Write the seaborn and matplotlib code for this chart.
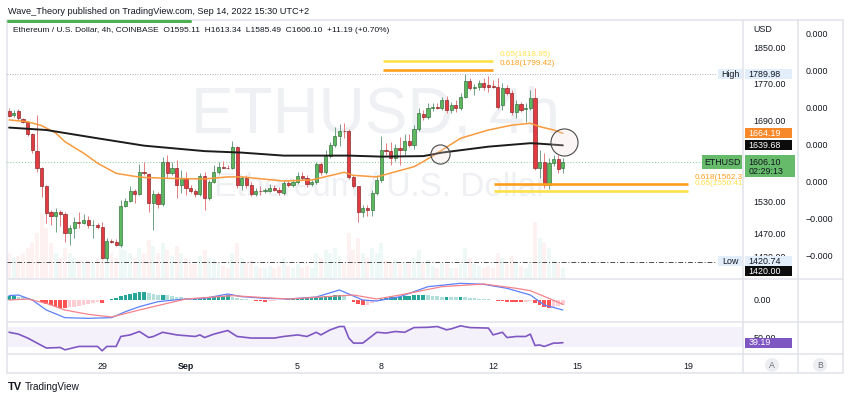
import numpy as np
import pandas as pd
import matplotlib
matplotlib.use("Agg")
import matplotlib.pyplot as plt
import seaborn as sns
from matplotlib.patches import Rectangle, Circle
from matplotlib.lines import Line2D
from matplotlib.transforms import IdentityTransform
from matplotlib.ticker import NullLocator

# ── data (ETHUSD 4h, Coinbase) ───────────────────────────────────────────────
opens = [1710, 1702, 1710, 1694, 1688, 1663, 1628, 1594, 1559, 1510,
         1503, 1510, 1506, 1471, 1480, 1491, 1490, 1495, 1486, 1487,
         1482, 1427, 1457, 1455, 1450, 1521, 1531, 1550, 1544, 1586,
         1583, 1527, 1544, 1525, 1606, 1584, 1594, 1561, 1575, 1555,
         1550, 1544, 1579, 1536, 1567, 1586, 1596, 1595, 1594, 1636,
         1561, 1575, 1561, 1544, 1550, 1549, 1550, 1555, 1552, 1546,
         1565, 1561, 1567, 1579, 1575, 1563, 1567, 1602, 1586, 1618,
         1640, 1658, 1669, 1668, 1577, 1559, 1510, 1518, 1514, 1546,
         1571, 1630, 1628, 1614, 1634, 1630, 1648, 1641, 1673, 1704,
         1698, 1717, 1719, 1718, 1734, 1713, 1723, 1717, 1740, 1775,
         1760, 1762, 1771, 1766, 1764, 1763, 1723, 1760, 1749, 1708,
         1725, 1714, 1717, 1738, 1594, 1606, 1561, 1604, 1612, 1595.11]
highs = [1717, 1713, 1715, 1696, 1690, 1665, 1702, 1596, 1561, 1514,
         1518, 1514, 1510, 1486, 1501, 1510, 1506, 1503, 1495, 1490,
         1491, 1462, 1461, 1461, 1533, 1536, 1559, 1554, 1602, 1606,
         1585, 1552, 1548, 1616, 1620, 1606, 1610, 1590, 1586, 1561,
         1553, 1584, 1586, 1571, 1600, 1606, 1608, 1600, 1648, 1638,
         1578, 1580, 1567, 1555, 1559, 1555, 1563, 1561, 1557, 1571,
         1571, 1573, 1586, 1586, 1580, 1571, 1606, 1606, 1630, 1646,
         1677, 1683, 1685, 1673, 1580, 1560, 1523, 1523, 1552, 1580,
         1658, 1644, 1646, 1642, 1656, 1662, 1662, 1681, 1717, 1713,
         1727, 1727, 1727, 1740, 1742, 1730, 1734, 1749, 1789.98, 1782,
         1769, 1777, 1782, 1786, 1777, 1782, 1771, 1766, 1755, 1734,
         1730, 1727, 1755, 1760, 1630, 1624, 1614, 1620, 1620, 1613.34]
lows = [1698, 1698, 1692, 1685, 1658, 1624, 1586, 1538, 1490, 1486,
        1473, 1484, 1455, 1450, 1462, 1480, 1488, 1480, 1462, 1479,
        1425, 1420.74, 1453, 1448, 1446, 1520, 1529, 1527, 1542, 1580,
        1510, 1477, 1518, 1521, 1575, 1580, 1536, 1546, 1542, 1546,
        1538, 1540, 1514, 1532, 1565, 1582, 1594, 1592, 1592, 1555,
        1551, 1555, 1540, 1540, 1542, 1546, 1548, 1550, 1542, 1542,
        1557, 1557, 1563, 1571, 1557, 1559, 1563, 1580, 1582, 1614,
        1636, 1638, 1654, 1573, 1555, 1491, 1501, 1503, 1503, 1542,
        1567, 1620, 1600, 1608, 1600, 1620, 1636, 1632, 1669, 1692,
        1694, 1710, 1715, 1713, 1706, 1706, 1708, 1713, 1738, 1755,
        1745, 1755, 1755, 1751, 1760, 1715, 1713, 1745, 1702, 1696,
        1708, 1688, 1713, 1590, 1575, 1555, 1553, 1598, 1585, 1585.49]
closes = [1700, 1706, 1696, 1688, 1663, 1630, 1594, 1559, 1508, 1503,
          1510, 1506, 1471, 1480, 1491, 1490, 1495, 1486, 1487, 1482,
          1427, 1457, 1455, 1450, 1521, 1531, 1550, 1544, 1586, 1584,
          1527, 1544, 1525, 1606, 1584, 1594, 1561, 1575, 1555, 1550,
          1544, 1579, 1536, 1567, 1586, 1596, 1595, 1594, 1636, 1561,
          1575, 1561, 1544, 1550, 1549, 1551, 1555, 1552, 1548, 1565,
          1561, 1567, 1579, 1575, 1563, 1567, 1602, 1586, 1618, 1640,
          1658, 1669, 1668, 1577, 1559, 1510, 1518, 1514, 1546, 1571,
          1630, 1628, 1614, 1634, 1630, 1648, 1641, 1673, 1706, 1698,
          1717, 1719, 1718, 1734, 1713, 1723, 1717, 1740, 1775, 1760,
          1762, 1771, 1762, 1762, 1763, 1719, 1760, 1749, 1708, 1725,
          1713, 1717, 1738, 1594, 1606, 1561, 1604, 1612, 1592, 1606.10]
volume = [25, 20, 22, 25, 30, 35, 45, 65, 50, 35,
          25, 20, 30, 25, 20, 18, 15, 18, 15, 20,
          40, 35, 25, 20, 38, 28, 25, 20, 30, 25,
          38, 32, 25, 35, 28, 22, 32, 25, 20, 15,
          14, 22, 28, 20, 18, 15, 12, 10, 25, 35,
          20, 15, 18, 12, 10, 10, 12, 10, 12, 20,
          12, 10, 14, 10, 12, 10, 25, 20, 28, 25,
          30, 22, 15, 45, 28, 40, 25, 20, 30, 25,
          35, 18, 15, 18, 14, 15, 14, 20, 28, 15,
          18, 12, 10, 15, 14, 10, 10, 14, 30, 20,
          14, 12, 10, 12, 10, 25, 20, 14, 22, 15,
          12, 10, 14, 56, 40, 35, 30, 18, 15, 10]

first_candle = "2022-08-25 16:00"

# moving averages (sampled at candle index)
ma50_idx = [0, 4, 7, 10, 12, 16, 19, 23, 27, 29, 35, 42, 47, 50, 59, 65, 72, 74,
            79, 83, 87, 89, 93, 97, 103, 108, 112, 114, 117, 119]
ma50 = [1692, 1688, 1680, 1665, 1647, 1624, 1604, 1584, 1578, 1576, 1574, 1573,
        1577, 1577, 1569, 1571, 1586, 1580, 1577, 1587, 1597, 1607, 1630, 1654,
        1671, 1681, 1685, 1678, 1671, 1664.19]
ma200_idx = [0, 8, 19, 29, 42, 50, 59, 73, 80, 89, 93, 103, 112, 114, 119]
ma200 = [1676, 1671, 1654, 1639, 1628, 1625, 1619, 1619, 1617, 1618, 1625, 1637,
         1644, 1643, 1639.68]

# MACD
macd_idx = [0, 2, 5, 8, 12, 17, 22, 25, 28, 32, 37, 42, 47, 50, 55, 60, 66, 71,
            76, 79, 84, 90, 97, 102, 107, 112, 115, 119]
macd = [4.6, 5.4, -0.6, -12.6, -21.8, -22.6, -21.8, -14.6, -8.6, -2.6, 0.2, 1.4,
        6.6, 3.4, 1.4, 0.6, 3.0, 11.4, -0.6, -1.8, 3.4, 15.4, 19.4, 18.2, 13.4,
        5.4, -6.6, -12.6]
signal_idx = [0, 4, 8, 12, 17, 22, 28, 34, 38, 48, 55, 60, 74, 79, 84, 93, 102,
              109, 112, 116, 119]
signal = [-0.6, 0.6, -4.6, -12.6, -17.8, -21, -12.6, -4.6, 0.6, 4.6, 2.2, 0.6,
          5.4, 0.6, 5.4, 15.4, 18.6, 13.4, 10.6, 1.4, -5.8]
hist = [4, 4, 3.5, 3, 2, 1,
        -1, -3, -5, -7, -9, -10,
        -10, -9, -8.5, -7.5, -6.5, -5.5, -4.5, -3.5,
        -4, -1, 0.5,
        2, 4, 5, 6.5, 7.5, 8.5, 9,
        8, 6.5, 5, 6, 5, 4, 3, 2.5, 1.5,
        1, 1.5,
        2, 2.5, 3, 3.5, 4, 4.5, 5,
        3, 2, 1, 0.5,
        -1, -1.5, -2, -2.5, -2, -1.5,
        -1, -0.5, 0.5,
        1, 1.5, 2, 2,
        2.5, 3, 3.5, 4, 4.5, 5, 5.5, 5,
        -1, -3, -5, -6.5, -6, -4, -2,
        1, 2, 2.5, 3, 3.5, 4, 4.5, 5, 5.5, 5.5,
        5, 4.5, 4, 3.5, 3.5, 3, 2.5, 3, 2.5, 2, 1.5, 1, 0.5, 0.2,
        -1, -1.5, -2, -2.5, -2.5, -3, -3.5,
        -2.5, -2,
        -4, -7, -9, -10,
        -9, -8, -7]

# RSI
rsi_idx = [0, 2, 4, 8, 11, 12, 15, 19, 20, 21, 23, 24, 26, 28, 30, 31, 33, 36,
           40, 41, 42, 44, 47, 49, 52, 55, 57, 59, 62, 64, 66, 67, 69, 71, 72,
           73, 74, 76, 79, 81, 83, 85, 87, 90, 92, 94, 95, 97, 99, 103, 104,
           106, 107, 109, 111, 112, 113, 114, 115, 117, 118, 119]
rsi = [59, 55.5, 48, 29, 30, 25.6, 32, 32, 23.7, 32, 32, 51, 54, 60.5, 49, 51,
       59, 54, 51, 54, 49, 55.5, 62.4, 51, 48, 48, 48, 51, 54, 51, 59, 54, 63.7,
       70, 70, 48, 38.4, 38.4, 59, 57.5, 60.5, 59, 68, 68.5, 70, 63.7, 65.5,
       71.3, 68, 67, 54, 59, 49, 51, 51, 55.5, 33.8, 34.8, 32, 38.4, 38.4, 39.19]

# drawn objects
fib_up = [(1818.95, "0.65(1818.95)", "#ffe14a"), (1799.42, "0.618(1799.42)", "#ff9f1c")]
fib_dn = [(1562.37, "0.618(1562.37)", "#ff9f1c"), (1550.41, "0.65(1550.41)", "#ffe14a")]
fib_up_span = (80.3, 104.0)
fib_dn_span = (104.2, 145.9)
cross_marks = [(92.5, 1621.4, 190), (119.2, 1646.9, 380)]
hline_low = 1420.00
period_high, period_low, last_price = 1789.98, 1420.74, 1606.10

tick_days = ["2022-08-29", "2022-09-01", "2022-09-05", "2022-09-08",
             "2022-09-12", "2022-09-15", "2022-09-19"]
tick_text = ["29", "Sep", "5", "8", "12", "15", "19"]

# ── frame ────────────────────────────────────────────────────────────────────
df = pd.DataFrame({"open": opens, "high": highs, "low": lows,
                   "close": closes, "volume": volume})
df["i"] = np.arange(len(df))
start = pd.Timestamp(first_candle)
tick_pos = [(pd.Timestamp(d) - start) / pd.Timedelta("4h") for d in tick_days]

sns.set_theme(style="white")
plt.rcParams["font.family"] = ["Liberation Sans", "DejaVu Sans"]
TXT = "#131722"
GRID = "#e0e3eb"

W, H = 850, 399
fig = plt.figure(figsize=(W / 100, H / 100), dpi=100)
ID = IdentityTransform()


def rect(x0, y0, x1, y1):
    return [x0 / W, 1 - y1 / H, (x1 - x0) / W, (y1 - y0) / H]


ax = fig.add_axes(rect(7, 20, 743, 278))
ax_vol = ax.twinx()
ax_b = ax.twinx()
ax_macd = fig.add_axes(rect(7, 279, 743, 321), sharex=ax)
ax_rsi = fig.add_axes(rect(7, 322, 743, 354), sharex=ax)

ax.set_zorder(2)
ax_vol.set_zorder(1)
ax_b.set_zorder(1)
ax.patch.set_visible(False)

# volume in the background
vol_col = np.where(df.close >= df.open, "#26a69a", "#ef5350")
ax_vol.bar(df.i, df.volume, width=0.85, color=vol_col, alpha=0.075, linewidth=0)
ax_vol.set_ylim(0, 258)
ax_vol.set_yticks([])

# watermark
ax.text(0.501, 0.628, "ETHUSD, 4h", transform=ax.transAxes, ha="center",
        va="center", fontsize=46, color="#eef0f3", zorder=0)
ax.text(0.507, 0.349, "Ethereum / U.S. Dollar", transform=ax.transAxes,
        ha="center", va="center", fontsize=24, color="#eef0f3", zorder=0)

# candles
up = df.close >= df.open
for mask, body, edge, wick in [(up, "#5cb85f", "#2f6b37", "#6f9f86"),
                               (~up, "#e23b42", "#7d2020", "#e47b7e")]:
    d = df[mask]
    ax.vlines(d.i, d.low, d.high, color=wick, lw=0.7, zorder=3)
    ax.bar(d.i, (d.close - d.open).abs().clip(lower=0.9),
           bottom=np.minimum(d.open, d.close), width=0.68, color=body,
           edgecolor=edge, linewidth=0.45, zorder=4)

# moving averages
sns.lineplot(x=ma50_idx, y=ma50, ax=ax, color="#f89a3d", lw=1.1, zorder=5)
sns.lineplot(x=ma200_idx, y=ma200, ax=ax, color="#1c1c1c", lw=1.4, zorder=5)

ax.set_yscale("log")
ax.set_ylim(1392, 1914)
ax.set_xlim(-0.45, 157.7)

# reference lines
ax.axhline(period_high, xmax=0.963, color="#9598a1", lw=0.6, ls=(0, (1, 2)), zorder=2)
ax.axhline(last_price, xmax=0.944, color="#7fcf8f", lw=0.7, ls=(0, (1, 2)), zorder=2)
ax.axhline(hline_low, xmax=0.963, color="#4a4a4a", lw=0.7, ls=(0, (5, 2, 1, 2)), zorder=2)

for price, label, col in fib_up:
    ax.hlines(price, *fib_up_span, color=col, lw=1.9, zorder=5)
    ax.annotate(label, (fib_up_span[1] + 1.5, price), xytext=(0, 5),
                textcoords="offset points", va="center", fontsize=5.9, color=col)
for price, label, col in fib_dn:
    ax.hlines(price, *fib_dn_span, color=col, lw=1.9, zorder=5)
    ax.annotate(label, (fib_dn_span[1] + 1.5, price), xytext=(0, 5),
                textcoords="offset points", va="center", fontsize=5.9, color=col,
                annotation_clip=False, clip_on=True)

for cx, cy, s in cross_marks:
    ax.scatter([cx], [cy], s=s, facecolor=(0.97, 0.86, 0.86, 0.25),
               edgecolor="#4a4a4a", linewidth=0.8, zorder=6)

ax.set(xlabel="", ylabel="")
ax.yaxis.tick_right()
ax.yaxis.set_minor_locator(NullLocator())
price_ticks = [1430, 1470, 1530, 1690, 1770, 1850]
ax.set_yticks(price_ticks)
ax.set_yticklabels([f"{v:.2f}" for v in price_ticks])
ax.tick_params(axis="y", length=0, pad=7.5, labelsize=6.4, labelcolor=TXT)
ax.tick_params(axis="x", length=0, labelbottom=False)

# scale B
b_ticks = [4e-4, 3e-4, 2e-4, 1e-4, 0.0, -1e-4, -2e-4]
ax_b.set_ylim(-2.595e-4, 4.378e-4)
ax_b.set_yticks(b_ticks)
ax_b.set_yticklabels([f"{v:.3f}".replace("-", "\u2212") for v in b_ticks])
ax_b.tick_params(axis="y", length=0, pad=45, labelsize=6.4, labelcolor=TXT)

# MACD pane
hist_col = []
for k, v in enumerate(hist):
    prev = hist[k - 1] if k else v
    if v >= 0:
        hist_col.append("#26a69a" if v >= prev else "#b2dfdb")
    else:
        hist_col.append("#ff5252" if v <= prev else "#ffcdd2")
ax_macd.bar(df.i, hist, width=0.8, color=hist_col, linewidth=0)
sns.lineplot(x=macd_idx, y=macd, ax=ax_macd, color="#5b80fa", lw=0.9)
sns.lineplot(x=signal_idx, y=signal, ax=ax_macd, color="#f5828a", lw=0.9)
ax_macd.set_ylim(-25.8, 24.6)
ax_macd.set(xlabel="", ylabel="")
ax_macd.yaxis.tick_right()
ax_macd.set_yticks([0])
ax_macd.set_yticklabels(["0.00"])
ax_macd.tick_params(axis="y", length=0, pad=7.5, labelsize=6.4, labelcolor=TXT)
ax_macd.tick_params(axis="x", length=0, labelbottom=False)

# RSI pane
ax_rsi.axhspan(30, 70, color="#f5f1fb", lw=0)
sns.lineplot(x=rsi_idx, y=rsi, ax=ax_rsi, color="#7e57c2", lw=1.2)
ax_rsi.set_ylim(17.6, 78.6)
ax_rsi.set(xlabel="", ylabel="")
ax_rsi.yaxis.tick_right()
ax_rsi.set_yticks([50])
ax_rsi.set_yticklabels(["50.00"])
ax_rsi.tick_params(axis="y", length=0, pad=7.5, labelsize=6.4, labelcolor=TXT)
ax_rsi.set_xticks(tick_pos)
ax_rsi.set_xticklabels(tick_text)
ax_rsi.tick_params(axis="x", length=0, pad=6, labelsize=6.4, labelcolor=TXT)
ax_rsi.get_xticklabels()[1].set_fontweight("bold")
ax_rsi.set_xlim(-0.45, 157.7)

for a in (ax, ax_vol, ax_b, ax_macd, ax_rsi):
    for sp in a.spines.values():
        sp.set_visible(False)

# frame / separators
def fline(x0, y0, x1, y1, col=GRID, lw=1.1):
    fig.add_artist(Line2D([x0 / W, x1 / W], [1 - y0 / H, 1 - y1 / H], color=col, lw=lw))

for yy in (20, 278.5, 321.5, 354, 373):
    fline(7, yy, 843, yy)
for xx in (7, 743, 798, 843):
    fline(xx, 20, xx, 373)
fig.add_artist(Line2D([8 / W, 190 / W], [1 - 20.5 / H] * 2, color="#4caf50", lw=2.2))

# axis tags
def tag(axis, value, x0, x1, text, bg, fg, h=10, dy=0, ha="left", bold=False):
    yd = axis.transData.transform((0, value))[1] - dy
    fig.add_artist(Rectangle((x0, yd - h / 2), x1 - x0, h, transform=ID,
                             facecolor=bg, edgecolor="none", zorder=5))
    tx = x0 + 3.5 if ha == "left" else (x0 + x1) / 2
    fig.text(tx, yd, text, transform=ID, ha=ha, va="center", fontsize=6.4,
             color=fg, zorder=6, fontweight="bold" if bold else "normal")

tag(ax, period_high, 718, 742, "High", "#e3eefb", TXT, ha="center")
tag(ax, period_high, 745, 792, f"{period_high:.2f}", "#e3eefb", TXT)
tag(ax, ma50[-1], 745, 792, f"{ma50[-1]:.2f}", "#f7892b", "white")
tag(ax, ma200[-1], 745, 792, f"{ma200[-1]:.2f}", "#0c0c0c", "white")
tag(ax, last_price, 702, 742, "ETHUSD", "#66bb6a", TXT, h=14, ha="center")
tag(ax, last_price, 745, 795, "", "#66bb6a", TXT, h=22, dy=4)
tag(ax, last_price, 745, 795, f"{last_price:.2f}", "#66bb6a", TXT, h=0.1)
tag(ax, last_price, 745, 795, "02:29:13", "#66bb6a", TXT, h=0.1, dy=9)
tag(ax, period_low, 718, 742, "Low", "#e3eefb", TXT, ha="center")
tag(ax, period_low, 745, 792, f"{period_low:.2f}", "#e3eefb", TXT)
tag(ax, hline_low, 745, 792, f"{hline_low:.2f}", "#0c0c0c", "white", dy=9.5)
tag(ax_rsi, rsi[-1], 745, 792, f"{rsi[-1]:.2f}", "#7e57c2", "white")

# texts around the chart
fig.text(8, H - 11, "Wave_Theory published on TradingView.com, Sep 14, 2022 15:30 UTC+2",
         transform=ID, va="center", fontsize=6.6, color=TXT)
fig.text(13, H - 31, "Ethereum / U.S. Dollar, 4h, COINBASE  O1595.11  H1613.34  "
         "L1585.49  C1606.10  +11.19 (+0.70%)", transform=ID, va="center",
         fontsize=6.0, color=TXT)
fig.text(753, H - 29, "USD", transform=ID, va="center", fontsize=6.4, color=TXT)

for cx, lab in [(772, "A"), (820, "B")]:
    fig.add_artist(Circle((cx, H - 365), 7, transform=ID, facecolor="#eceef2",
                          edgecolor="none"))
    fig.text(cx, H - 365, lab, transform=ID, ha="center", va="center",
             fontsize=6.2, color="#6a6d78")

fig.text(8, H - 387, "TV", transform=ID, va="center", fontsize=8,
         fontweight="heavy", color=TXT)
fig.text(25, H - 387, "TradingView", transform=ID, va="center", fontsize=7.2,
         color=TXT)

fig.savefig("out.png", dpi=100, facecolor="white")
